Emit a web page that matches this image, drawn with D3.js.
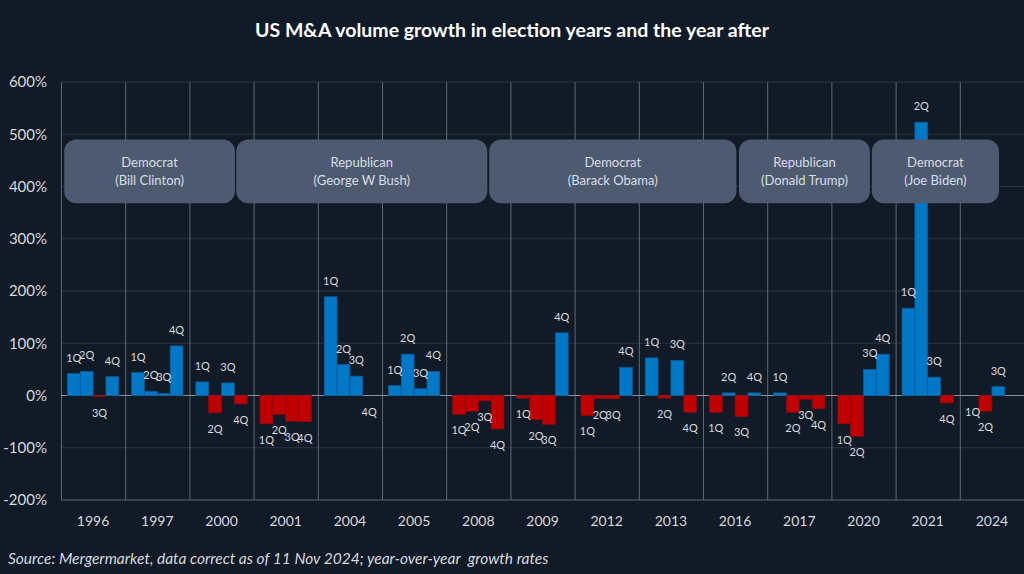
<!DOCTYPE html>
<html>
<head>
<meta charset="utf-8">
<script src="https://cdn.jsdelivr.net/npm/d3@7"></script>
<style>
  html, body { margin: 0; padding: 0; background: #111a27; }
  svg { display: block; font-family: Lato, "Noto Sans", sans-serif; }
</style>
</head>
<body>
<svg id="chart" width="1024" height="574"></svg>
<script>
// ---------- data ----------
const years = ["1996","1997","2000","2001","2004","2005","2008","2009","2012","2013","2016","2017","2020","2021","2024"];
const quarters = ["1Q","2Q","3Q","4Q"];
const q1 = [42, 44, 26, -54, 189, 19, -36, -5, -38, 72, -32, 5, -54, 167, 0];
const q2 = [46, 8, -33, -36, 59, 79, -30, -46, -6, -5, 5, -32, -78, 523, -30];
const q3 = [-2, 4, 24, -49, 37, 13, -10, -55, -6, 67, -40, -7, 50, 35, 17];
const q4 = [36, 95, -16, -50, 0, 46, -64, 120, 54, -32, 5, -25, 79, -14, null];
const yTicks = [-200, -100, 0, 100, 200, 300, 400, 500, 600];
const parties = ["Democrat", "Republican", "Democrat", "Republican", "Democrat"];
const presidents = ["(Bill Clinton)", "(George W Bush)", "(Barack Obama)", "(Donald Trump)", "(Joe Biden)"];
const title = "US M&A volume growth in election years and the year after";
const source = "Source: Mergermarket, data correct as of 11 Nov 2024; year-over-year  growth rates";

// ---------- layout ----------
const W = 1024, H = 574;
const plot = { left: 61, right: 1024, top: 82, bottom: 500 };
// annotation box extents in category-index units
const boxFrom = [0.05, 2.73, 6.67, 10.56, 12.63];
const boxTo   = [2.71, 6.64, 10.52, 12.60, 14.61];
const boxTop = 490, boxBottom = 368;

const svg = d3.select("#chart");
svg.append("rect").attr("width", W).attr("height", H).attr("fill", "#111a27");

const x = d3.scaleBand().domain(years).range([plot.left, plot.right]).padding(0);
const xq = d3.scaleBand().domain(quarters).range([x.bandwidth() * 0.1, x.bandwidth() * 0.9]).padding(0);
const y = d3.scaleLinear().domain([-200, 600]).range([plot.bottom, plot.top]);
const xi = d3.scaleLinear().domain([0, years.length]).range([plot.left, plot.right]);

// horizontal gridlines
svg.append("g").selectAll("line").data(yTicks.filter(t => t !== 0 && t !== -200)).join("line")
  .attr("x1", plot.left).attr("x2", plot.right)
  .attr("y1", d => y(d)).attr("y2", d => y(d))
  .attr("stroke", "#2b3545").attr("stroke-width", 1.2);

// vertical category lines
svg.append("g").selectAll("line").data(years).join("line")
  .attr("x1", d => x(d) + 0.5).attr("x2", d => x(d) + 0.5)
  .attr("y1", plot.top).attr("y2", plot.bottom)
  .attr("stroke", "#5f6876").attr("stroke-width", 1);

// bottom axis line
svg.append("line").attr("x1", plot.left).attr("x2", plot.right)
  .attr("y1", y(-200)).attr("y2", y(-200)).attr("stroke", "#5f6876").attr("stroke-width", 1.2);

// y axis labels
const yAxis = d3.axisLeft(y).tickValues(yTicks).tickFormat(d => d + "%").tickSize(0).tickPadding(14);
const gy = svg.append("g").attr("transform", `translate(${plot.left},0)`).call(yAxis);
gy.select(".domain").remove();
gy.selectAll("text").attr("fill", "#d6d9de").attr("font-size", 15).attr("font-family", "Lato, sans-serif");

// x axis labels
const xAxis = d3.axisBottom(x).tickSize(0).tickPadding(16);
const gx = svg.append("g").attr("transform", `translate(0,${plot.bottom})`).call(xAxis);
gx.select(".domain").remove();
gx.selectAll("text").attr("fill", "#d6d9de").attr("font-size", 14).attr("font-family", "Lato, sans-serif");

// zero line
svg.append("line").attr("x1", plot.left).attr("x2", plot.right)
  .attr("y1", y(0)).attr("y2", y(0)).attr("stroke", "#8a919c").attr("stroke-width", 1.2);

// bars
const series = [q1, q2, q3, q4];
const flat = [];
years.forEach((yr, i) => quarters.forEach((q, j) => {
  const v = series[j][i];
  if (v !== null && v !== undefined) flat.push({ year: yr, q: q, v: v });
}));

svg.append("g").selectAll("rect").data(flat).join("rect")
  .attr("x", d => x(d.year) + xq(d.q))
  .attr("width", xq.bandwidth())
  .attr("y", d => y(Math.max(0, d.v)))
  .attr("height", d => Math.abs(y(d.v) - y(0)))
  .attr("fill", d => d.v >= 0 ? "#0078c8" : "#c00000")
  .attr("stroke", d => d.v >= 0 ? "#0b5a92" : "#8e0a0a")
  .attr("stroke-width", 0.8);

// bar labels
svg.append("g").selectAll("text").data(flat).join("text")
  .attr("x", d => x(d.year) + xq(d.q) + xq.bandwidth() / 2)
  .attr("y", d => d.v > 0 ? y(d.v) - 12 : y(Math.min(0, d.v)) + 20)
  .attr("text-anchor", "middle")
  .attr("fill", "#d6d9de").attr("font-size", 11)
  .text(d => d.q);

// annotation boxes (on top of the bars)
const boxes = parties.map((p, i) => ({ party: p, name: presidents[i], from: boxFrom[i], to: boxTo[i] }));
const gb = svg.append("g").selectAll("g").data(boxes).join("g");
gb.append("rect")
  .attr("x", d => xi(d.from)).attr("width", d => xi(d.to) - xi(d.from))
  .attr("y", y(boxTop)).attr("height", y(boxBottom) - y(boxTop))
  .attr("rx", 12).attr("ry", 12).attr("fill", "#4e5a70");
gb.append("text").attr("x", d => (xi(d.from) + xi(d.to)) / 2).attr("y", y(boxTop) + 28)
  .attr("text-anchor", "middle").attr("fill", "#d8dde6").attr("font-size", 13).text(d => d.party);
gb.append("text").attr("x", d => (xi(d.from) + xi(d.to)) / 2).attr("y", y(boxTop) + 46)
  .attr("text-anchor", "middle").attr("fill", "#d8dde6").attr("font-size", 13).text(d => d.name);

// title
svg.append("text").attr("x", W / 2).attr("y", 37).attr("text-anchor", "middle")
  .attr("fill", "#ffffff").attr("font-size", 19.5).attr("font-weight", "bold").text(title);

// source
svg.append("text").attr("x", 8).attr("y", 564).attr("fill", "#d6d9de")
  .attr("font-size", 15.5).attr("font-style", "italic").style("white-space", "pre").text(source);
</script>
</body>
</html>
